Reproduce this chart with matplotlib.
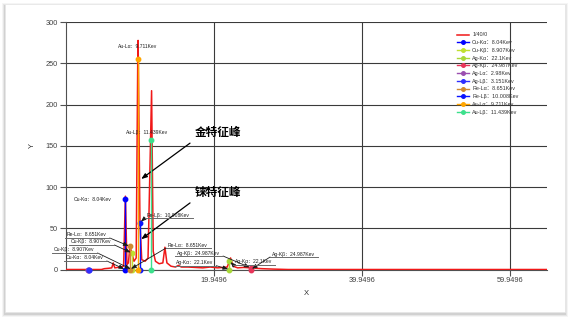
import matplotlib
matplotlib.use('Agg')
import matplotlib.pyplot as plt
from matplotlib.patches import Rectangle
from matplotlib.lines import Line2D

plt.rcParams['font.family'] = ['Liberation Sans', 'Noto Sans CJK SC']

# spectrum "1/40/0" (keV, counts)
spec_kev = [0, 4.8, 5.2, 5.8, 6.2, 6.4, 6.6, 7.0, 7.4, 7.8, 8.04, 8.25, 8.45, 8.651,
            8.907, 9.2, 9.5, 9.711, 9.76, 10.008, 10.25, 10.7, 11.1, 11.439, 11.58,
            11.8, 12.1, 12.6, 13.1, 13.38, 13.65, 14.2, 14.8, 15.2, 15.6, 16.5, 17.5,
            18.5, 19.5, 20.5, 21.2, 21.8, 22.1, 22.25, 22.6, 23.2, 24.0, 24.987, 25.2,
            25.6, 26.5, 28, 30, 65]
spec_cnt = [0, 0, 1, 1.5, 2, 8, 2, 2.5, 3, 4, 89, 6, 8, 28,
            20, 10, 14, 256, 278, 57, 12, 10, 14, 157, 217,
            22, 10, 7, 8, 27, 8, 4, 3, 5, 3, 3, 2.5,
            2, 3, 2, 2.5, 3, 10, 14, 4, 2, 2.5, 2, 3,
            1.5, 1, 0.5, 0, 0]

# characteristic lines
line_names = ['Cu-Kα：8.04Kev', 'Cu-Kβ：8.907Kev', 'Ag-Kα：22.1Kev', 'Ag-Kβ：24.987Kev',
              'Ag-Lα：2.98Kev', 'Ag-Lβ：3.151Kev', 'Re-Lα：8.651Kev', 'Re-Lβ：10.008Kev',
              'Au-Lα：9.711Kev', 'Au-Lβ：11.439Kev']
line_kev = [8.04, 8.907, 22.1, 24.987, 2.98, 3.151, 8.651, 10.008, 9.711, 11.439]
line_top = [85, 20, 10, 2, 0, 0, 28, 57, 256, 157]
line_colors = ['#0000ff', '#c0e030', '#a8d838', '#e8355a', '#9b4fb0', '#2e2eff',
               '#d08a30', '#0a14ff', '#ffa500', '#3ce08c']

x_ticks = [19.9496, 39.9496, 59.9496]
y_ticks = [0, 50, 100, 150, 200, 250, 300]

# callouts with underline: (line index, 'top'/'base', text x, text y)
callouts = [
    (7, 'top', 10.96, 66.1),
    (6, 'top', 0.15, 41.9),
    (1, 'top', 0.69, 33.4),
    (1, 'base', -1.60, 23.7),
    (0, 'base', 0.02, 14.0),
    (6, 'base', 13.80, 29.7),
    (3, 'top', 15.02, 20.0),
    (2, 'base', 14.88, 8.25),
    (2, 'top', 22.86, 9.5),
    (3, 'base', 27.86, 18.8),
]

W, H = 573, 320
fig = plt.figure(figsize=(W / 100, H / 100), dpi=100)
fig.patch.set_facecolor('white')

# card with soft shadow
for i, a in enumerate([0.04, 0.06, 0.09]):
    d = 3 - i
    fig.patches.append(Rectangle(((5 - d) / W, (8 - d - 2) / H), (560 + 2 * d) / W,
                                 (308 + 2 * d) / H, transform=fig.transFigure,
                                 facecolor='black', alpha=a, edgecolor='none', zorder=0))
fig.patches.append(Rectangle((5 / W, 8 / H), 560 / W, 308 / H, transform=fig.transFigure,
                             facecolor='white', edgecolor='#e6e6e6', lw=0.5, zorder=1))

ax = fig.add_axes([65.5 / W, (320 - 269.5) / H, (547 - 65.5) / W, (269.5 - 22.3) / H])
ax.set_zorder(5)
ax.patch.set_visible(False)

ax.set_xlim(-0.0504, 65.0)
ax.set_ylim(0, 300)
ax.set_xticks(x_ticks)
ax.set_xticklabels([f'{v:g}' for v in x_ticks])
ax.set_yticks(y_ticks)
ax.tick_params(length=4, width=0.8, color='#505050', labelsize=5.3,
               labelcolor='#404040', pad=1.5)
ax.grid(True, color='#3a3a3a', lw=0.8)
ax.set_axisbelow(True)
for s in ['top', 'right']:
    ax.spines[s].set_visible(False)
for s in ['left', 'bottom']:
    ax.spines[s].set_color('#505050')
    ax.spines[s].set_linewidth(0.8)

ax.plot(spec_kev, spec_cnt, color='#f01818', lw=1.1, zorder=3, label='1/40/0')
for name, e, h, c in zip(line_names, line_kev, line_top, line_colors):
    ax.plot([e, e], [0, h], color=c, lw=1.0, marker='o', ms=3.2, zorder=4,
            label=name, clip_on=False)

ax.set_xlabel('X', fontsize=5.5, color='#303030')
ax.set_ylabel('Y', fontsize=5.5, color='#303030')
ax.xaxis.set_label_coords(0.4995, -0.099)
ax.yaxis.set_label_coords(-0.0696, 0.4996)
ax.xaxis.label.set_va('center')
ax.yaxis.label.set_va('center')

leg = ax.legend(loc='upper left', bbox_to_anchor=(457 / W, 1 - 32.5 / H),
                bbox_transform=fig.transFigure, frameon=False, fontsize=3.9,
                borderpad=0, borderaxespad=0, handlelength=2.2, handletextpad=0.6,
                labelspacing=0.5, markerscale=0.8)
for t in leg.get_texts():
    t.set_color('#303030')

lab_fs = 3.6
# plain labels next to points
ax.annotate(line_names[8], xy=(line_kev[8], line_top[8]), xytext=(0, 8.9),
            textcoords='offset points', ha='center', va='center', fontsize=lab_fs,
            color='#202020')
ax.annotate(line_names[9], xy=(line_kev[9], line_top[9]), xytext=(-2.6, 5.5),
            textcoords='offset points', ha='center', va='center', fontsize=lab_fs,
            color='#202020')
ax.annotate(line_names[0], xy=(line_kev[0], line_top[0]), xytext=(-10, 0),
            textcoords='offset points', ha='right', va='center', fontsize=lab_fs,
            color='#202020')

# underlined callouts
fig.canvas.draw()
r = fig.canvas.get_renderer()
for idx, end, tx, ty in callouts:
    tgt = (line_kev[idx], line_top[idx] if end == 'top' else 0)
    t = ax.text(tx, ty, line_names[idx], fontsize=lab_fs, ha='left', va='center',
                color='#202020', zorder=6, clip_on=False)
    bb = t.get_window_extent(r)
    x0, x1, yl = bb.x0 - 2, bb.x1 + 3, bb.y0 - 0.5
    fig.add_artist(Line2D([x0 / W, x1 / W], [yl / H, yl / H], color='#6a6a6a', lw=0.7,
                          zorder=6))
    px, _ = ax.transData.transform(tgt)
    if px > x1:
        sx = x1
    elif px < x0:
        sx = x0
    else:
        sx = x0 if abs(px - x0) < abs(px - x1) else x1
    ax.annotate('', xy=tgt, xycoords='data', xytext=(sx, yl), textcoords='figure pixels',
                arrowprops=dict(arrowstyle='-|>,head_length=0.3,head_width=0.12',
                                color='#1a1a1a', lw=0.6, shrinkA=0, shrinkB=1),
                zorder=6, annotation_clip=False)

# characteristic peak notes
for txt, tgt, pos in [('金特征峰', (10.17, 109.8), (17.45, 165.7)),
                      ('铼特征峰', (10.17, 36.7), (17.45, 93.2))]:
    ax.annotate(txt, xy=tgt, xytext=pos, fontsize=8.4, fontweight='heavy',
                family=['Noto Sans CJK SC'], ha='left', va='center', color='black',
                arrowprops=dict(arrowstyle='-|>,head_length=0.4,head_width=0.15',
                                color='black', lw=0.9, shrinkA=2, shrinkB=0,
                                relpos=(0, 0)))

fig.savefig('out.png', dpi=100, facecolor=fig.get_facecolor())
